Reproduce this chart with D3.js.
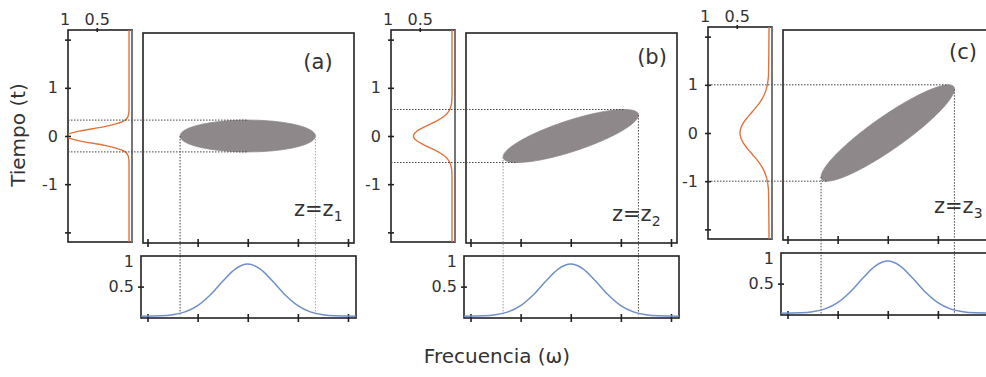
<!DOCTYPE html>
<html>
<head>
<meta charset="utf-8">
<script src="https://cdn.jsdelivr.net/npm/d3@7"></script>
<style>
  body { margin: 0; background: #fff; }
  svg { display: block; }
  text { font-family: "DejaVu Sans", Verdana, sans-serif; fill: #333; }
</style>
</head>
<body>
<svg id="chart" width="986" height="377"></svg>
<script>
// ---- data -------------------------------------------------------------
const panelNames = ["(a)", "(b)", "(c)"];
const zSubscripts = ["1", "2", "3"];

const timeTicks = [-2, -1, 0, 1, 2];
const timeTickLabels = ["", "-1", "0", "1", ""];
const ampTicks = [1, 0.5];
const ampTickLabels = ["1", "0.5"];
const freqTicks = [-2, -1, 0, 1, 2];
const specTicks = [1, 0.5];
const specTickLabels = ["1", "0.5"];

// Wigner ellipse of each pulse: half-extent in frequency, in time, and chirp correlation
const bandHalfWidth = [1.35, 1.35, 1.33];
const pulseHalfDuration = [0.33, 0.55, 1.0];
const chirpCorrelation = [0, 0.79, 0.91];

// temporal intensity profiles |E(t)|
const tSamples = [-2.2, -1.2, -1.1, -1.0, -0.9, -0.8, -0.7, -0.6, -0.5, -0.4, -0.3, -0.2, -0.1, 0,
                  0.1, 0.2, 0.3, 0.4, 0.5, 0.6, 0.7, 0.8, 0.9, 1.0, 1.1, 1.2, 2.2];
const pulseA = [0, 0, 0, 0, 0, 0, 0, 0, 0.002, 0.017, 0.101, 0.36, 0.775, 1,
                0.775, 0.36, 0.101, 0.017, 0.002, 0, 0, 0, 0, 0, 0, 0, 0];
const pulseB = [0, 0, 0, 0, 0, 0.001, 0.006, 0.02, 0.056, 0.132, 0.256, 0.411, 0.546, 0.6,
                0.546, 0.411, 0.256, 0.132, 0.056, 0.02, 0.006, 0.001, 0, 0, 0, 0, 0];
const pulseC = [0, 0.008, 0.015, 0.026, 0.045, 0.073, 0.112, 0.162, 0.222, 0.286, 0.349, 0.402, 0.437, 0.45,
                0.437, 0.402, 0.349, 0.286, 0.222, 0.162, 0.112, 0.073, 0.045, 0.026, 0.015, 0.008, 0];
const pulses = [pulseA, pulseB, pulseC];

// spectral profile (unchanged by propagation)
const wSamples = [-2.3, -1.75, -1.5, -1.25, -1.0, -0.75, -0.5, -0.25, 0, 0.25, 0.5, 0.75, 1.0, 1.25, 1.5, 1.75, 2.3];
const spectrum = [0, 0.007, 0.024, 0.073, 0.179, 0.359, 0.59, 0.796, 0.88, 0.796, 0.59, 0.359, 0.179, 0.073, 0.024, 0.007, 0];

// ---- layout -----------------------------------------------------------
const panelShift = [{x: 0, y: 0}, {x: 323, y: 0}, {x: 640, y: -3}];
const letterPos = [{x: 318, y: 62}, {x: 329, y: 57}, {x: 323, y: 55}];
const zPos = [{x: 294, y: 216}, {x: 289, y: 221}, {x: 294, y: 216}];
// the two vertical projection lines: [left, right] shade per panel
const dropShade = [["#444", "#aaa"], ["#999", "#444"], ["#444", "#444"]];

const timeBox = {x0: 68, x1: 132, y0: 30, y1: 242};
const mainBox = {x0: 143, x1: 354, y0: 33, y1: 243};
const specBox = {x0: 141, x1: 356, y0: 256, y1: 318};

const ink = "#222";
const dotColor = "#444";

const svg = d3.select("#chart");
const defs = svg.append("defs");

const t = d3.scaleLinear().domain([2.2, -2.2]).range([timeBox.y0, timeBox.y1]);
const amp = d3.scaleLinear().domain([0.946, -0.046]).range([timeBox.x0, timeBox.x1]);
const w = d3.scaleLinear().domain([-2.09, 2.12]).range([mainBox.x0, mainBox.x1]);
const s = d3.scaleLinear().domain([-0.03, 1.0]).range([specBox.y1, 257]);

function frame(g, b, stroke) {
  g.append("rect")
    .attr("x", b.x0).attr("y", b.y0)
    .attr("width", b.x1 - b.x0).attr("height", b.y1 - b.y0)
    .attr("fill", "none").attr("stroke", stroke || ink).attr("stroke-width", 1.6);
}

function styleAxis(g) {
  g.select(".domain").remove();
  g.selectAll(".tick line").attr("stroke", ink).attr("stroke-width", 1.6);
  g.selectAll(".tick text").attr("fill", "#333").style("font-size", "16px")
    .style("font-family", '"DejaVu Sans", Verdana, sans-serif');
}

panelNames.forEach((name, i) => {
  const g = svg.append("g").attr("transform", `translate(${panelShift[i].x},${panelShift[i].y})`);

  const W = bandHalfWidth[i], T = pulseHalfDuration[i], c = chirpCorrelation[i];
  const phi = Math.acos(c);

  // ---- temporal profile panel
  frame(g, timeBox);
  g.append("line")
    .attr("x1", timeBox.x1).attr("x2", timeBox.x1)
    .attr("y1", timeBox.y0).attr("y2", timeBox.y1)
    .attr("stroke", "#777").attr("stroke-width", 2);

  const ax = g.append("g")
    .attr("transform", `translate(${timeBox.x0 + 3},0)`)
    .call(d3.axisLeft(t).tickValues(timeTicks).tickSize(6).tickPadding(7)
      .tickFormat((d, k) => timeTickLabels[k]));
  styleAxis(ax);

  const top = g.append("g")
    .attr("transform", `translate(0,${timeBox.y0 + 2})`)
    .call(d3.axisTop(amp).tickValues(ampTicks).tickSize(4).tickPadding(3)
      .tickFormat((d, k) => ampTickLabels[k]));
  styleAxis(top);
  top.selectAll(".tick").filter(d => d === 1).select("line").remove();

  const clipId = "clipT" + i;
  defs.append("clipPath").attr("id", clipId).append("rect")
    .attr("x", timeBox.x0).attr("y", timeBox.y0)
    .attr("width", timeBox.x1 - timeBox.x0).attr("height", timeBox.y1 - timeBox.y0);

  g.append("path")
    .datum(tSamples.map((tv, k) => [tv, pulses[i][k]]))
    .attr("clip-path", `url(#${clipId})`)
    .attr("fill", "none").attr("stroke", "#e0733f").attr("stroke-width", 1.4)
    .attr("d", d3.line().x(d => amp(d[1])).y(d => t(d[0])).curve(d3.curveMonotoneY));

  // ---- time-frequency panel
  frame(g, mainBox);
  const bx = g.append("g")
    .attr("transform", `translate(0,${mainBox.y1 - 4})`)
    .call(d3.axisBottom(w).tickValues(freqTicks).tickSize(8).tickFormat(""));
  styleAxis(bx);

  const ring = d3.range(0, 2 * Math.PI, Math.PI / 90).map(a => [W * Math.cos(a), T * Math.cos(a - phi)]);
  g.append("path")
    .datum(ring)
    .attr("fill", "#8e888a").attr("stroke", "#8e888a").attr("stroke-width", 0.8)
    .attr("d", d3.line().x(d => w(d[0])).y(d => t(d[1])).curve(d3.curveLinearClosed));

  // projections of the ellipse extremes
  const dots = g.append("g").attr("stroke-width", 1)
    .attr("stroke-dasharray", "1.5,1.5").attr("fill", "none");
  [[W * c, T], [-W * c, -T]].forEach(p => {
    dots.append("line").attr("stroke", dotColor)
      .attr("x1", timeBox.x0).attr("x2", w(p[0]))
      .attr("y1", t(p[1])).attr("y2", t(p[1]));
  });
  [[-W, -T * c], [W, T * c]].forEach((p, k) => {
    dots.append("line").attr("stroke", dropShade[i][k])
      .attr("x1", w(p[0])).attr("x2", w(p[0]))
      .attr("y1", t(p[1])).attr("y2", s(0));
  });

  g.append("text")
    .attr("x", letterPos[i].x).attr("y", letterPos[i].y)
    .attr("text-anchor", "middle").attr("dominant-baseline", "central")
    .style("font-size", "21px").text(name);

  const zt = g.append("text")
    .attr("x", zPos[i].x).attr("y", zPos[i].y)
    .style("font-size", "21px");
  zt.append("tspan").text("z=z");
  zt.append("tspan").attr("dy", 5).style("font-size", "14px").text(zSubscripts[i]);

  // ---- spectrum panel
  frame(g, specBox);
  const sb = g.append("g")
    .attr("transform", `translate(0,${specBox.y1 - 4})`)
    .call(d3.axisBottom(w).tickValues(freqTicks).tickSize(8).tickFormat(""));
  styleAxis(sb);

  const sl = g.append("g")
    .attr("transform", `translate(${specBox.x0 + 3},0)`)
    .call(d3.axisLeft(s).tickValues(specTicks).tickSize(6).tickPadding(4)
      .tickFormat((d, k) => specTickLabels[k]));
  styleAxis(sl);
  sl.selectAll(".tick").filter(d => d === 1).select("line").remove();
  sl.selectAll(".tick").filter(d => d === 1).select("text").attr("dy", "0.6em");

  const clipS = "clipS" + i;
  defs.append("clipPath").attr("id", clipS).append("rect")
    .attr("x", specBox.x0).attr("y", specBox.y0)
    .attr("width", specBox.x1 - specBox.x0).attr("height", specBox.y1 - specBox.y0);

  g.append("path")
    .datum(wSamples.map((wv, k) => [wv, spectrum[k]]))
    .attr("clip-path", `url(#${clipS})`)
    .attr("fill", "none").attr("stroke", "#6e8fc9").attr("stroke-width", 1.5)
    .attr("d", d3.line().x(d => w(d[0])).y(d => s(d[1])).curve(d3.curveMonotoneX));
});

// axis titles
svg.append("text")
  .attr("transform", "translate(18,135) rotate(-90)")
  .attr("text-anchor", "middle").attr("dominant-baseline", "central")
  .style("font-size", "20px").text("Tiempo (t)");

svg.append("text")
  .attr("x", 497).attr("y", 356)
  .attr("text-anchor", "middle").attr("dominant-baseline", "central")
  .style("font-size", "20px").text("Frecuencia (ω)");
</script>
</body>
</html>
